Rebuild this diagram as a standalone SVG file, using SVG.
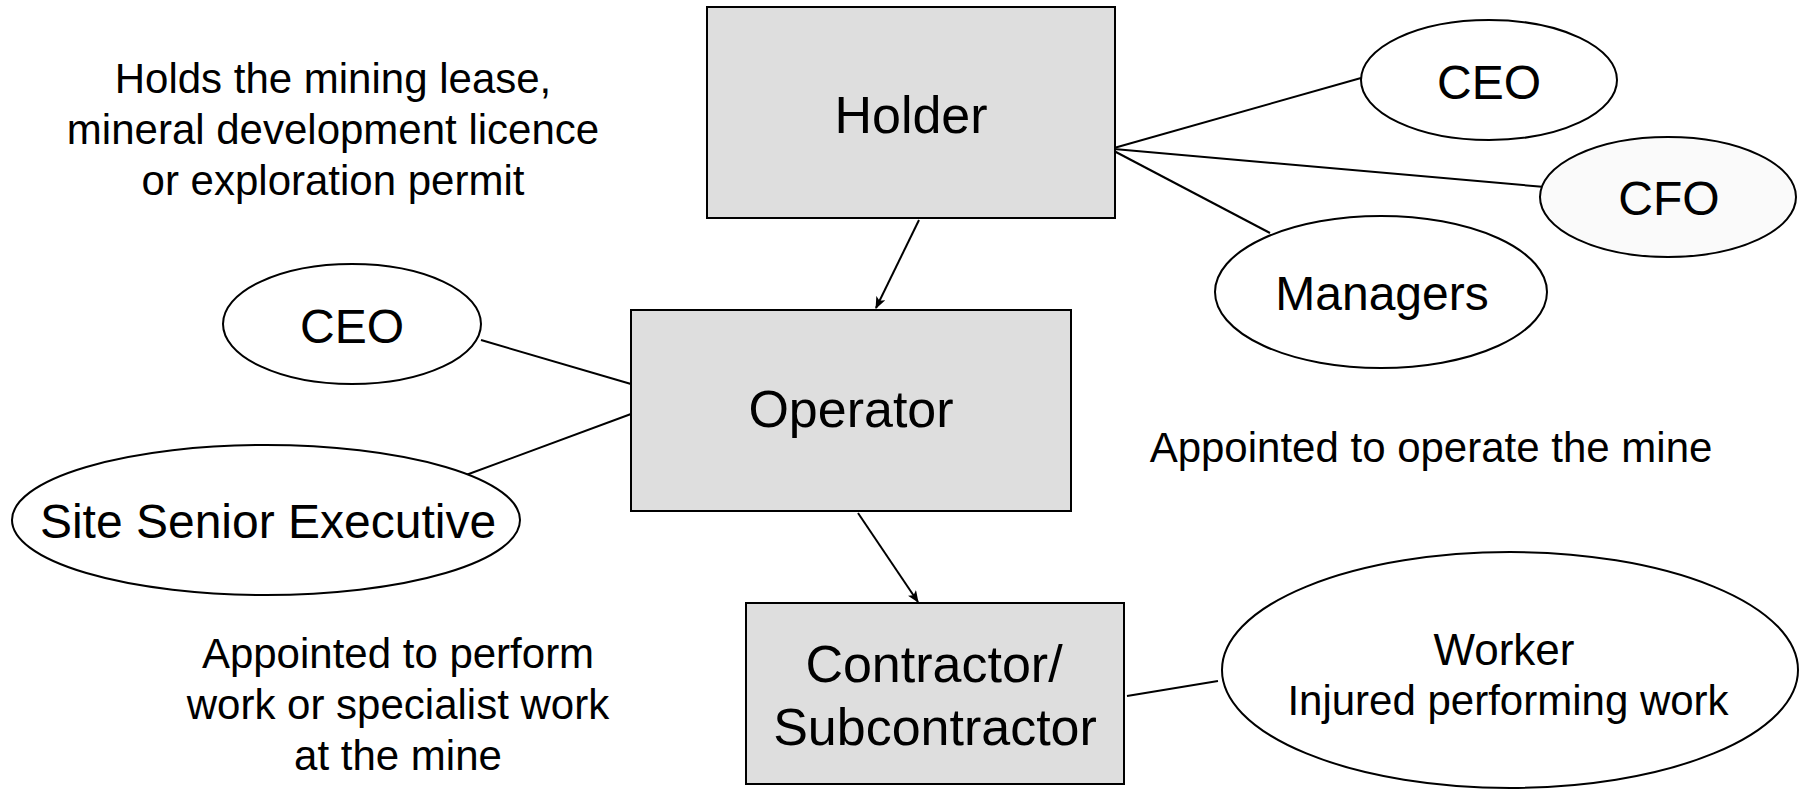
<svg xmlns="http://www.w3.org/2000/svg" width="1805" height="791" viewBox="0 0 1805 791">
<defs>
<style>
text{font-family:"Liberation Sans",Arial,sans-serif;fill:#000;text-anchor:middle}
.box{fill:#dedede;stroke:#000;stroke-width:2}
.ell{fill:#fff;stroke:#000;stroke-width:2}
.con{stroke:#000;stroke-width:2;fill:none}
.big{font-size:52px}
.mid{font-size:48px}
.note{font-size:42px}
</style>
<marker id="arr" viewBox="0 0 12 10" refX="11" refY="5" markerWidth="12" markerHeight="10" markerUnits="userSpaceOnUse" orient="auto">
<path d="M0,0 L12,5 L0,10 L3,5 Z" fill="#000"/>
</marker>
</defs>
<rect width="1805" height="791" fill="#fff"/>
<g id="connectors">
<line class="con" x1="1114" y1="148" x2="1361" y2="78"/>
<line class="con" x1="1114" y1="149" x2="1545" y2="187"/>
<line class="con" x1="1114" y1="151" x2="1270" y2="233"/>
<line class="con" x1="919" y1="220" x2="876" y2="308" marker-end="url(#arr)"/>
<line class="con" x1="481" y1="340" x2="631" y2="384"/>
<line class="con" x1="466" y1="475" x2="631" y2="414"/>
<line class="con" x1="858" y1="513" x2="918" y2="602" marker-end="url(#arr)"/>
<line class="con" x1="1127" y1="696" x2="1218" y2="681"/>
</g>
<g id="holder">
<rect class="box" x="707" y="7" width="408" height="211"/>
<text class="big" x="911" y="133">Holder</text>
</g>
<g id="operator">
<rect class="box" x="631" y="310" width="440" height="201"/>
<text class="big" x="851" y="427">Operator</text>
</g>
<g id="contractor">
<rect class="box" x="746" y="603" width="378" height="181"/>
<text class="big" x="934" y="682">Contractor/</text>
<text class="big" x="935" y="745">Subcontractor</text>
</g>
<g id="ceo-holder">
<ellipse class="ell" cx="1489" cy="80" rx="128" ry="60"/>
<text class="mid" x="1489" y="99">CEO</text>
</g>
<g id="cfo">
<ellipse class="ell" cx="1668" cy="197" rx="128" ry="60" style="fill:#fafafa"/>
<text class="mid" x="1669" y="215">CFO</text>
</g>
<g id="managers">
<ellipse class="ell" cx="1381" cy="292" rx="166" ry="76"/>
<text class="mid" x="1382" y="310">Managers</text>
</g>
<g id="ceo-operator">
<ellipse class="ell" cx="352" cy="324" rx="129" ry="60"/>
<text class="mid" x="352" y="343">CEO</text>
</g>
<g id="sse">
<ellipse class="ell" cx="266" cy="520" rx="254" ry="75"/>
<text class="mid" x="268" y="538">Site Senior Executive</text>
</g>
<g id="worker">
<ellipse class="ell" cx="1510" cy="670" rx="288" ry="118"/>
<text x="1504" y="665" style="font-size:44px">Worker</text>
<text class="note" x="1508" y="715">Injured performing work</text>
</g>
<g id="note-holder">
<text class="note" x="333" y="93">Holds the mining lease,</text>
<text class="note" x="333" y="144">mineral development licence</text>
<text class="note" x="333" y="195">or exploration permit</text>
</g>
<g id="note-operator">
<text class="note" x="1431" y="462">Appointed to operate the mine</text>
</g>
<g id="note-contractor">
<text class="note" x="398" y="668">Appointed to perform</text>
<text class="note" x="398" y="719">work or specialist work</text>
<text class="note" x="398" y="770">at the mine</text>
</g>
</svg>
